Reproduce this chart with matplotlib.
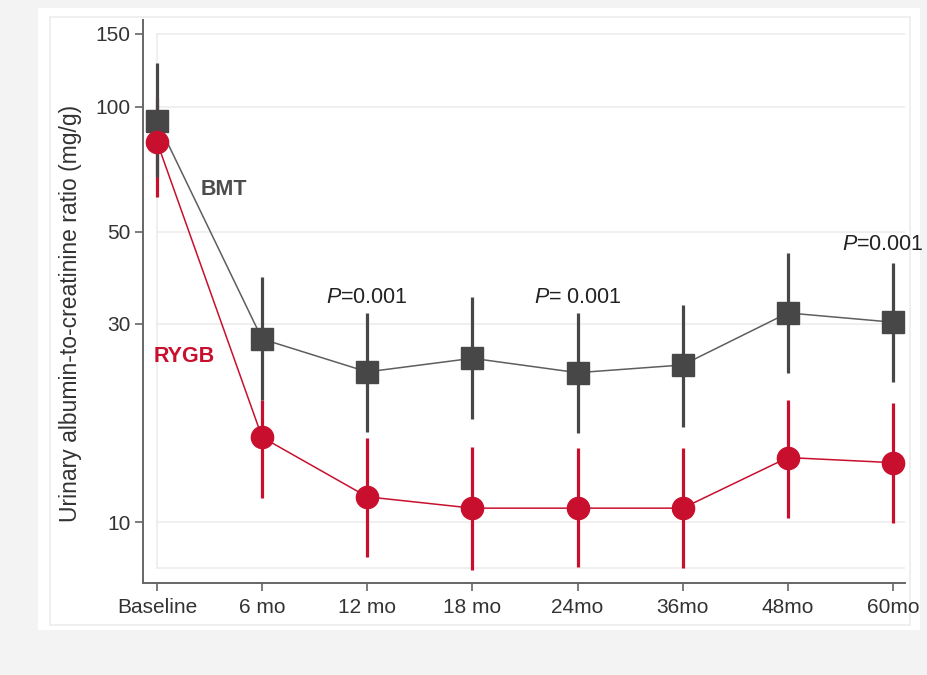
import matplotlib.pyplot as plt
from matplotlib.patches import Rectangle

plt.rcParams['font.family'] = 'Liberation Sans'
plt.rcParams['mathtext.fontset'] = 'custom'
plt.rcParams['mathtext.rm'] = 'Liberation Sans'
plt.rcParams['mathtext.it'] = 'Liberation Sans:italic'

timepoints = ['Baseline', '6 mo', '12 mo', '18 mo', '24mo', '36mo', '48mo', '60mo']

# BMT arm (geometric mean with 95% CI)
bmt_mean = [92.5, 27.6, 23.0, 24.8, 22.9, 23.9, 31.9, 30.3]
bmt_low = [67.8, 19.7, 16.5, 17.7, 16.4, 16.9, 22.8, 21.7]
bmt_high = [127.6, 38.9, 31.9, 34.8, 31.9, 33.4, 44.5, 42.1]

# RYGB arm
rygb_mean = [82.4, 16.0, 11.5, 10.8, 10.8, 10.8, 14.3, 13.9]
rygb_low = [60.7, 11.4, 8.24, 7.66, 7.79, 7.75, 10.2, 9.95]
rygb_high = [105.0, 19.7, 15.9, 15.2, 15.1, 15.1, 19.7, 19.3]

p_labels = [(2, 34.8, '$P$=0.001'), (4, 34.8, '$P$= 0.001'), (6.9, 46.7, '$P$=0.001')]

GRAY = '#474747'
RED = '#c8102e'

fig = plt.figure(figsize=(9.28, 6.75), dpi=100, facecolor='#f3f3f3')
fig.patches.append(Rectangle((38 / 928, 1 - 630 / 675), 882 / 928, 622 / 675,
                             transform=fig.transFigure, facecolor='white',
                             edgecolor='none', zorder=-2))
fig.patches.append(Rectangle((50 / 928, 1 - 625 / 675), 860 / 928, 608 / 675,
                             transform=fig.transFigure, facecolor='none',
                             edgecolor='#ececec', lw=1.2, zorder=-1))

ax = fig.add_axes([143 / 928, 1 - 583 / 675, 762 / 928, 563 / 675])
ax.set_facecolor('none')
ax.set_yscale('log')
ax.set_ylim(7.13, 162)
ax.set_xlim(-0.133, 7.114)

x = list(range(len(timepoints)))

def err(mean, low, high):
    return [[m - l for m, l in zip(mean, low)], [h - m for m, h in zip(mean, high)]]

ax.errorbar(x, rygb_mean, yerr=err(rygb_mean, rygb_low, rygb_high), fmt='none',
            ecolor=RED, elinewidth=2.3, capsize=0, zorder=2)
ax.errorbar(x, bmt_mean, yerr=err(bmt_mean, bmt_low, bmt_high), fmt='none',
            ecolor=GRAY, elinewidth=2.3, capsize=0, zorder=3)
ax.plot(x, bmt_mean, color='#5e5e5e', lw=1.1, zorder=4)
ax.plot(x, bmt_mean, ls='none', marker='s', ms=16, color=GRAY, zorder=5)
ax.plot(x, rygb_mean, color=RED, lw=1.1, zorder=6)
ax.plot(x, rygb_mean, ls='none', marker='o', ms=16, color=RED, zorder=7)

yticks = [10, 30, 50, 100, 150]
ax.set_yticks(yticks)
ax.set_yticklabels([str(t) for t in yticks])
ax.minorticks_off()
ax.set_xticks(x)
ax.set_xticklabels(timepoints)

# light grid and inner plot-region outline
for t in yticks:
    ax.axhline(t, xmin=0.0197, xmax=1, color='#ececec', lw=1.2, zorder=0)
ax.axvline(0.0, ymin=0.0266, ymax=0.975, color='#ececec', lw=1.2, zorder=0)
ax.axhline(7.75, xmin=0.0197, xmax=1, color='#ececec', lw=1.2, zorder=0)

for s in ['top', 'right']:
    ax.spines[s].set_visible(False)
for s in ['left', 'bottom']:
    ax.spines[s].set_color('#666666')
    ax.spines[s].set_linewidth(1.4)
ax.tick_params(axis='both', colors='#666666', labelcolor='#333333', labelsize=15,
               length=6, width=1.2)
ax.tick_params(axis='y', pad=3)
ax.tick_params(axis='x', pad=5)

ax.set_ylabel('Urinary albumin-to-creatinine ratio (mg/g)', fontsize=16.5,
              color='#333333')
ax.yaxis.set_label_coords(-0.08, 0.478)

ax.text(0.637, 63.1, 'BMT', color='#4d4d4d', fontsize=15.5, fontweight='bold',
        ha='center', va='center')
ax.text(0.257, 25.0, 'RYGB', color=RED, fontsize=15.5, fontweight='bold',
        ha='center', va='center')
for px, py, label in p_labels:
    ax.text(px, py, label, color='#222222', fontsize=15.5, ha='center', va='center')

fig.savefig('out.png', dpi=100, facecolor=fig.get_facecolor())
